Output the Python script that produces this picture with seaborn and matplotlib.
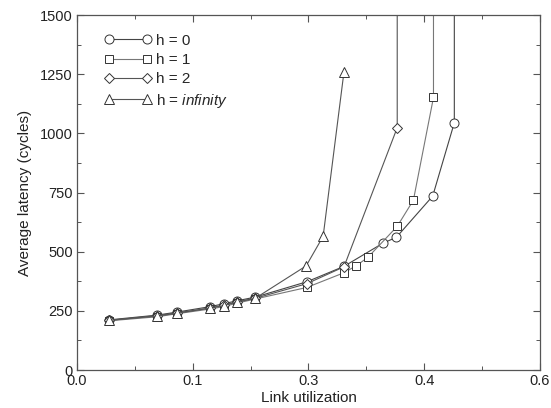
import numpy as np
import pandas as pd
import matplotlib
matplotlib.use("Agg")
import matplotlib.pyplot as plt
from matplotlib.ticker import MultipleLocator, FixedLocator
import seaborn as sns

# ---- data ----
x_h0 = [0.042, 0.104, 0.130, 0.173, 0.190, 0.208, 0.231, 0.298, 0.346, 0.396, 0.414, 0.461, 0.489, 0.489]
y_h0 = [212, 232, 245, 268, 280, 293, 308, 373, 438, 535, 561, 735, 1045, 2000]

x_h1 = [0.042, 0.104, 0.130, 0.173, 0.190, 0.208, 0.231, 0.298, 0.346, 0.362, 0.377, 0.415, 0.436, 0.462, 0.462]
y_h1 = [208, 225, 238, 258, 268, 283, 300, 349, 411, 441, 476, 607, 718, 1152, 2000]

x_h2 = [0.042, 0.104, 0.130, 0.173, 0.190, 0.208, 0.231, 0.298, 0.346, 0.415, 0.415]
y_h2 = [210, 230, 242, 262, 275, 288, 303, 365, 436, 1024, 2000]

x_hinf = [0.042, 0.104, 0.130, 0.173, 0.190, 0.208, 0.231, 0.297, 0.319, 0.346]
y_hinf = [210, 228, 240, 262, 272, 288, 303, 440, 565, 1260]

labels = ["h = 0", "h = 1", "h = 2", r"h = $\mathit{infinity}$"]
markers = ["o", "s", "D", "^"]
xticks = [0.0, 0.15, 0.3, 0.45, 0.6]
xticklabels = ["0.0", "0.1", "0.3", "0.4", "0.6"]
yticks = [0, 250, 500, 750, 1000, 1250, 1500]

series = [(x_h0, y_h0), (x_h1, y_h1), (x_h2, y_h2), (x_hinf, y_hinf)]

sns.set_theme(style="white")
plt.rcParams["font.family"] = ["Liberation Sans", "DejaVu Sans"]
plt.rcParams["mathtext.fontset"] = "custom"
plt.rcParams["mathtext.rm"] = "Liberation Sans"
plt.rcParams["mathtext.it"] = "Liberation Sans:italic"

fig = plt.figure(figsize=(5.51, 4.08), dpi=100)
ax = fig.add_axes([0.1397, 0.0931, 0.8403, 0.8701])

line_colors = ["#444444", "#777777", "#555555", "#555555"]
msizes = [6.5, 5.5, 5.0, 6.5]
for (xs, ys), lab, mk, lc, ms in zip(series, labels, markers, line_colors, msizes):
    df = pd.DataFrame({"x": xs, "y": ys})
    sns.lineplot(data=df, x="x", y="y", ax=ax, sort=False, estimator=None,
                 color=lc, linewidth=0.8, marker=mk, markersize=ms,
                 markerfacecolor="white", markeredgecolor="#333333",
                 markeredgewidth=0.7, label=lab, clip_on=True)

ax.set_xlim(0, 0.6)
ax.set_ylim(0, 1500)
ax.xaxis.set_major_locator(FixedLocator(xticks))
ax.set_xticklabels(xticklabels)
ax.xaxis.set_minor_locator(MultipleLocator(0.075))
ax.yaxis.set_major_locator(FixedLocator(yticks))
ax.yaxis.set_minor_locator(MultipleLocator(125))

ax.tick_params(which="both", direction="in", top=True, right=True,
               bottom=True, left=True, color="#555555", labelsize=10.5,
               labelcolor="#222222", pad=3)
ax.tick_params(which="major", length=5, width=0.8)
ax.tick_params(which="minor", length=3, width=0.7)
for sp in ax.spines.values():
    sp.set_color("#555555")
    sp.set_linewidth(0.9)

ax.set_xlabel("Link utilization", fontsize=11, color="#222222", labelpad=2)
ax.set_ylabel("Average latency (cycles)", fontsize=11, color="#222222", labelpad=6)

leg = ax.legend(loc="upper left", frameon=False, numpoints=2, handlelength=3.1,
                handletextpad=0.3, labelspacing=0.35, fontsize=11,
                bbox_to_anchor=(0.045, 0.965), borderaxespad=0)

fig.savefig("out.png", dpi=100)
